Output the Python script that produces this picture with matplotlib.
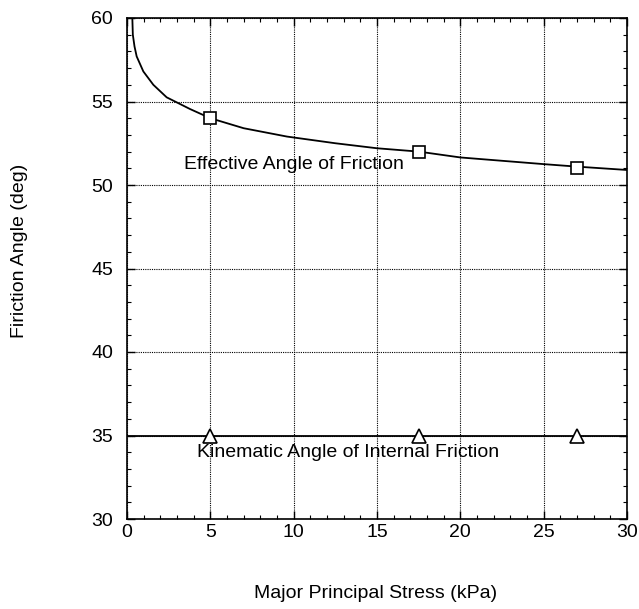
import numpy as np
import matplotlib.pyplot as plt
from matplotlib.ticker import MultipleLocator

plt.rcParams['font.family'] = ['Liberation Sans', 'DejaVu Sans']

# effective angle of friction curve
curve_x = [0.32, 0.35, 0.45, 0.58, 0.98, 1.58, 2.38, 3.08, 3.78, 5.0, 7.0, 9.6, 12.5,
           15.0, 17.5, 20.0, 22.5, 25.0, 27.0, 30.0]
curve_y = [60.0, 59.0, 58.3, 57.7, 56.8, 56.0, 55.25, 54.9, 54.55, 54.0, 53.4, 52.9, 52.5,
           52.2, 52.0, 51.65, 51.45, 51.25, 51.1, 50.9]

# measured points
eff_x = [5, 17.5, 27]
eff_y = [54, 52, 51]
kin_x = [5, 17.5, 27]
kin_y = [35, 35, 35]
kin_line_x = [0, 30]
kin_line_y = [35, 35]

fig = plt.figure(figsize=(6.39, 6.09), dpi=100)
ax = fig.add_axes([127/639, 1 - 519/609, 500/639, 501/609])

ax.plot(curve_x, curve_y, color='black', lw=1.3, zorder=3)
ax.plot(eff_x, eff_y, 's', ms=9, mfc='white', mec='black', mew=1.2, zorder=4)
ax.plot(kin_line_x, kin_line_y, color='black', lw=1.3, zorder=3)
ax.plot(kin_x, kin_y, '^', ms=10, mfc='white', mec='black', mew=1.2, zorder=4)

ax.text(3.4, 51.2, 'Effective Angle of Friction', fontsize=14, va='center', ha='left')
ax.text(4.2, 34.0, 'Kinematic Angle of Internal Friction', fontsize=14, va='center', ha='left')

ax.set_xlim(0, 30)
ax.set_ylim(30, 60)
ax.xaxis.set_major_locator(MultipleLocator(5))
ax.xaxis.set_minor_locator(MultipleLocator(1))
ax.yaxis.set_major_locator(MultipleLocator(5))
ax.yaxis.set_minor_locator(MultipleLocator(1))
ax.tick_params(which='both', direction='in', top=True, right=True, labelsize=14)
ax.tick_params(which='major', length=6, width=1)
ax.tick_params(which='minor', length=3, width=0.8)
ax.tick_params(axis='y', which='major', pad=10)
ax.grid(True, which='major', color='black', ls=(0, (1, 1)), lw=0.8)
for s in ax.spines.values():
    s.set_linewidth(1.2)

fig.text(376/639, 1 - 593/609, 'Major Principal Stress (kPa)', fontsize=14, ha='center', va='center')
fig.text(20/639, 1 - 251/609, 'Firiction Angle (deg)', fontsize=14, ha='center', va='center', rotation=90)

plt.savefig('out.png', dpi=100)
